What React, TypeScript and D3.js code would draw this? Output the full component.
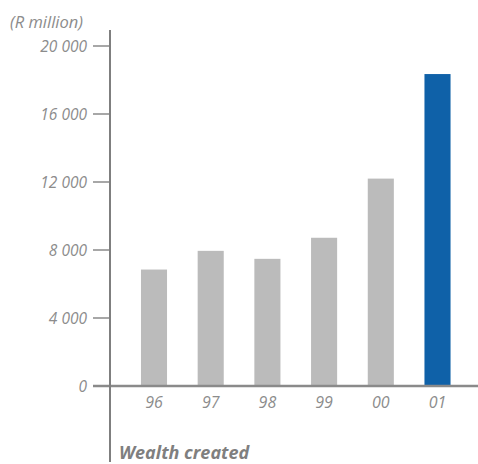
import React from "react";
import * as d3 from "d3";

const categories = ["96", "97", "98", "99", "00", "01"];
const values = [6850, 7950, 7480, 8720, 12200, 18350];
const tickValues = [0, 4000, 8000, 12000, 16000, 20000];
const tickLabels = ["0", "4 000", "8 000", "12 000", "16 000", "20 000"];
const unitLabel = "(R million)";
const title = "Wealth created";

const W = 478;
const H = 464;
const axisX = 110;
const textColor = "#8c8c8c";
const font = "'Open Sans', sans-serif";

export default function App() {
  const y = d3.scaleLinear().domain([0, 20000]).range([386, 46]);
  const x = d3
    .scaleBand<string>()
    .domain(categories)
    .range([125.65, 465.85])
    .paddingInner(0.54)
    .paddingOuter(0.27);

  return (
    <svg
      width={W}
      height={H}
      style={{ position: "absolute", left: 0, top: 0 }}
      fontFamily={font}
    >
      <rect width={W} height={H} fill="#fff" />
      <text x={10} y={28} fontSize={16.5} fontStyle="italic" fill={textColor}>
        {unitLabel}
      </text>
      {tickValues.map((t, i) => (
        <g key={t}>
          <line x1={93} x2={axisX} y1={y(t)} y2={y(t)} stroke="#8a8a8a" strokeWidth={1.5} />
          <text
            x={87}
            y={y(t) + 5.5}
            textAnchor="end"
            fontSize={15.5}
            fontStyle="italic"
            fill={textColor}
          >
            {tickLabels[i]}
          </text>
        </g>
      ))}
      {categories.map((c, i) => (
        <g key={c}>
          <rect
            x={x(c)}
            y={y(values[i])}
            width={x.bandwidth()}
            height={y(0) - y(values[i])}
            fill={i === categories.length - 1 ? "#0f61a8" : "#bbbbbb"}
          />
          <text
            x={(x(c) as number) + x.bandwidth() / 2}
            y={408}
            textAnchor="middle"
            fontSize={16}
            fontStyle="italic"
            fill={textColor}
          >
            {c}
          </text>
        </g>
      ))}
      <line x1={93} x2={W} y1={y(0)} y2={y(0)} stroke="#8a8a8a" strokeWidth={2.5} />
      <line x1={axisX} x2={axisX} y1={30} y2={462} stroke="#7f7f7f" strokeWidth={2} />
      <text
        x={119}
        y={459}
        fontSize={18}
        fontStyle="italic"
        fontWeight="bold"
        fill="#7f7f7f"
      >
        {title}
      </text>
    </svg>
  );
}
